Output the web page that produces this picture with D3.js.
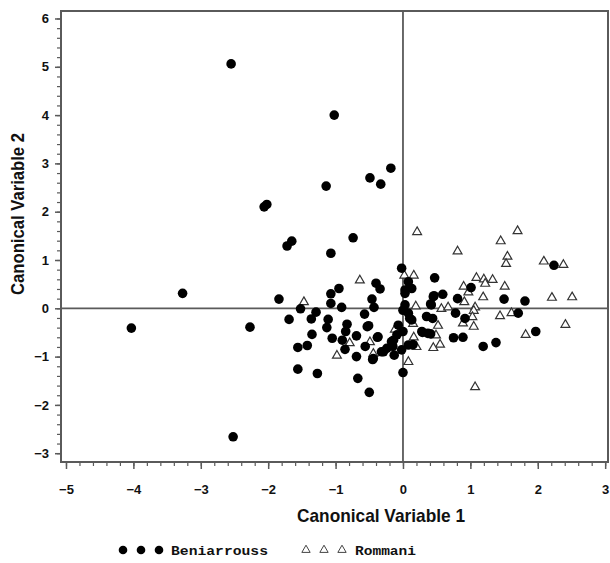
<!DOCTYPE html>
<html><head><meta charset="utf-8">
<script src="https://cdn.jsdelivr.net/npm/d3@7/dist/d3.min.js"></script>
<style>body{margin:0;background:#fff;}svg{display:block;}</style>
</head><body><svg id="c" width="610" height="563"></svg>
<script>
const seriesNames = ["Beniarrouss", "Rommani"];
const beniarrouss = [
[-2.55,5.06],[-1.02,4.0],[-0.18,2.9],[-0.49,2.7],[-0.33,2.57],[-1.14,2.53],[-2.02,2.15],[-2.06,2.10],
[-4.03,-0.41],[-3.27,0.31],[-1.65,1.39],[-1.72,1.29],[-0.74,1.46],[-1.07,1.14],[-1.84,0.19],[-2.27,-0.39],
[-2.52,-2.66],[2.24,0.89],
[-0.40,0.52],[-0.34,0.40],[-0.95,0.41],[-1.07,0.30],[-1.07,0.10],[-1.52,-0.01],[-1.29,-0.08],[-1.36,-0.22],
[-1.69,-0.23],[-0.91,0.02],[-0.46,0.19],[-0.43,0.02],[-0.57,-0.12],[-1.11,-0.23],[-1.13,-0.40],[-0.83,-0.33],
[-0.53,-0.38],[-1.35,-0.54],[-0.85,-0.48],[-0.69,-0.57],[-1.05,-0.62],[-0.90,-0.66],[-1.56,-0.81],[-1.42,-0.77],
[-0.86,-0.85],[-0.56,-0.79],[-0.38,-0.60],[-0.69,-1.0],[-0.45,-1.06],[-0.29,-0.90],[-1.56,-1.26],[-1.27,-1.35],
[-0.67,-1.45],[-0.50,-1.74],[-0.09,-0.55],[-0.14,-0.66],[-0.15,-0.79],[-0.13,-0.97],[-0.02,-0.86],[-0.07,-0.35],
[-0.24,-0.83],[-0.32,-0.90],[-0.17,-0.69],[-0.51,-0.36],[-0.37,-0.59],[-0.44,-1.04],
[0.0,-1.33],[0.0,-0.48],[0.0,-0.04],[0.03,0.38],[0.13,0.41],[-0.02,0.83],[0.08,-0.10],[0.13,-0.24],
[0.08,0.55],[0.03,0.31],[0.03,0.07],[0.10,-0.21],[0.42,0.07],[0.45,0.24],[0.35,-0.17],[0.28,-0.48],
[0.37,-0.52],[0.08,-0.76],[0.15,-0.75],
[0.47,0.63],[1.01,0.43],[0.46,0.26],[0.59,0.29],[0.81,0.20],[1.50,0.19],[1.81,0.15],[0.41,0.09],
[0.78,-0.10],[0.92,-0.21],[1.71,-0.10],[0.44,-0.21],[1.97,-0.48],[0.29,-0.50],[0.41,-0.53],[0.75,-0.61],
[0.89,-0.60],[1.19,-0.79],[1.38,-0.71]
];
const rommani = [
[0.21,1.59],[1.70,1.61],[1.45,1.40],[0.81,1.19],[1.55,1.08],[1.53,0.93],[2.09,0.98],[2.38,0.91],
[0.16,0.69],[0.02,0.69],[1.09,0.64],[1.20,0.61],[1.33,0.60],[1.22,0.52],[0.90,0.46],[0.97,0.34],
[1.51,0.46],[1.19,0.24],[2.21,0.23],[2.51,0.24],[0.91,0.14],[0.19,0.05],[0.57,0.0],[0.67,0.03],
[1.07,0.03],[1.05,-0.04],[1.61,-0.09],[1.44,-0.15],[1.03,-0.17],[0.89,-0.30],[1.05,-0.37],[0.52,-0.35],
[0.15,-0.31],[2.41,-0.33],[1.82,-0.54],[0.49,-0.55],[0.16,-0.59],[0.55,-0.74],[0.45,-0.81],[0.20,-0.79],
[0.08,-1.10],[1.07,-1.62],[-0.64,0.59],[-1.47,0.14],[-0.79,-0.71],[-0.98,-0.97],[-0.49,-0.69],[-0.44,-0.93],
[-0.12,-0.43]
];
const xTicks = [-5,-4,-3,-2,-1,0,1,2,3];
const xTickLabels = ["−5","−4","−3","−2","−1","0","1","2","3"];
const yTicks = [-3,-2,-1,0,1,2,3,4,5,6];
const yTickLabels = ["−3","−2","−1","0","1","2","3","4","5","6"];
const xTitle = "Canonical Variable 1";
const yTitle = "Canonical Variable 2";

const L=61, R=608, T=11, B=462;
const x = d3.scaleLinear().domain([-5.074, 3.042]).range([L, R]);
const y = d3.scaleLinear().domain([-3.182, 6.155]).range([B, T]);
const svg = d3.select("#c");
const axisColor = "#5a5a5a";

// minor ticks
const xMinor = d3.range(-5, 3.001, 0.2).map(v=>+v.toFixed(2));
const yMinor = d3.range(-3, 6.001, 0.2).map(v=>+v.toFixed(2));
svg.append("g").attr("transform",`translate(0,${B})`)
  .call(d3.axisBottom(x).tickValues(xMinor).tickSize(4).tickFormat(""))
  .call(g=>{g.select(".domain").remove(); g.selectAll("line").attr("stroke",axisColor).attr("stroke-width",1.2);});
svg.append("g").attr("transform",`translate(${L},0)`)
  .call(d3.axisLeft(y).tickValues(yMinor).tickSize(4).tickFormat(""))
  .call(g=>{g.select(".domain").remove(); g.selectAll("line").attr("stroke",axisColor).attr("stroke-width",1.2);});

// major ticks
svg.append("g").attr("transform",`translate(0,${B})`)
  .call(d3.axisBottom(x).tickValues(xTicks).tickSize(7).tickPadding(16).tickFormat((d,i)=>xTickLabels[i]))
  .call(g=>{g.select(".domain").remove(); g.selectAll("line").attr("stroke",axisColor).attr("stroke-width",1.5);
    g.selectAll("text").attr("fill","#111").attr("font-family","'Liberation Sans',Arial,sans-serif").attr("font-weight","bold").attr("font-size",13);});
svg.append("g").attr("transform",`translate(${L},0)`)
  .call(d3.axisLeft(y).tickValues(yTicks).tickSize(6).tickPadding(6).tickFormat((d,i)=>yTickLabels[i]))
  .call(g=>{g.select(".domain").remove(); g.selectAll("line").attr("stroke",axisColor).attr("stroke-width",1.5);
    g.selectAll("text").attr("fill","#111").attr("font-family","'Liberation Sans',Arial,sans-serif").attr("font-weight","bold").attr("font-size",13);});

// frame
svg.append("rect").attr("x",L).attr("y",T).attr("width",R-L).attr("height",B-T)
  .attr("fill","none").attr("stroke",axisColor).attr("stroke-width",2);
// reference lines
svg.append("line").attr("x1",x(0)).attr("x2",x(0)).attr("y1",T).attr("y2",B).attr("stroke",axisColor).attr("stroke-width",1.8);
svg.append("line").attr("x1",L).attr("x2",R).attr("y1",y(0)).attr("y2",y(0)).attr("stroke",axisColor).attr("stroke-width",1.8);

const tri = d3.symbol().type(d3.symbolTriangle).size(34);
// points
svg.append("g").selectAll("path").data(rommani).join("path")
  .attr("d",tri).attr("transform",d=>`translate(${x(d[0])},${y(d[1])+0.5})`)
  .attr("fill","#fff").attr("stroke","#333").attr("stroke-width",1.2);
svg.append("g").selectAll("circle").data(beniarrouss).join("circle")
  .attr("cx",d=>x(d[0])).attr("cy",d=>y(d[1])).attr("r",4.8).attr("fill","#000");

// titles
svg.append("text").attr("x",381).attr("y",522).attr("text-anchor","middle")
  .attr("font-family","'Liberation Sans Narrow','Liberation Sans',Arial,sans-serif").attr("font-weight","bold")
  .attr("font-size",19).attr("fill","#111").attr("textLength",168).attr("lengthAdjust","spacingAndGlyphs").text(xTitle);
svg.append("text").attr("transform","translate(24,214) rotate(-90)").attr("text-anchor","middle")
  .attr("font-family","'Liberation Sans Narrow','Liberation Sans',Arial,sans-serif").attr("font-weight","bold")
  .attr("font-size",19).attr("fill","#111").attr("textLength",162).attr("lengthAdjust","spacingAndGlyphs").text(yTitle);

// legend
const lg = svg.append("g");
const ly = 550;
[123,141,159].forEach(cx=>lg.append("circle").attr("cx",cx).attr("cy",ly).attr("r",4.3).attr("fill","#000"));
lg.append("text").attr("x",171).attr("y",ly+5).attr("font-family","'Liberation Mono','DejaVu Sans Mono',monospace")
  .attr("font-weight","bold").attr("font-size",13).attr("fill","#111").attr("textLength",97).attr("lengthAdjust","spacingAndGlyphs").text(seriesNames[0]);
const tri2 = d3.symbol().type(d3.symbolTriangle).size(30);
[306,324,342].forEach(cx=>lg.append("path").attr("d",tri2).attr("transform",`translate(${cx},${ly})`)
  .attr("fill","#fff").attr("stroke","#444").attr("stroke-width",1));
lg.append("text").attr("x",355).attr("y",ly+5).attr("font-family","'Liberation Mono','DejaVu Sans Mono',monospace")
  .attr("font-weight","bold").attr("font-size",13).attr("fill","#111").attr("textLength",61).attr("lengthAdjust","spacingAndGlyphs").text(seriesNames[1]);
</script></body></html>
